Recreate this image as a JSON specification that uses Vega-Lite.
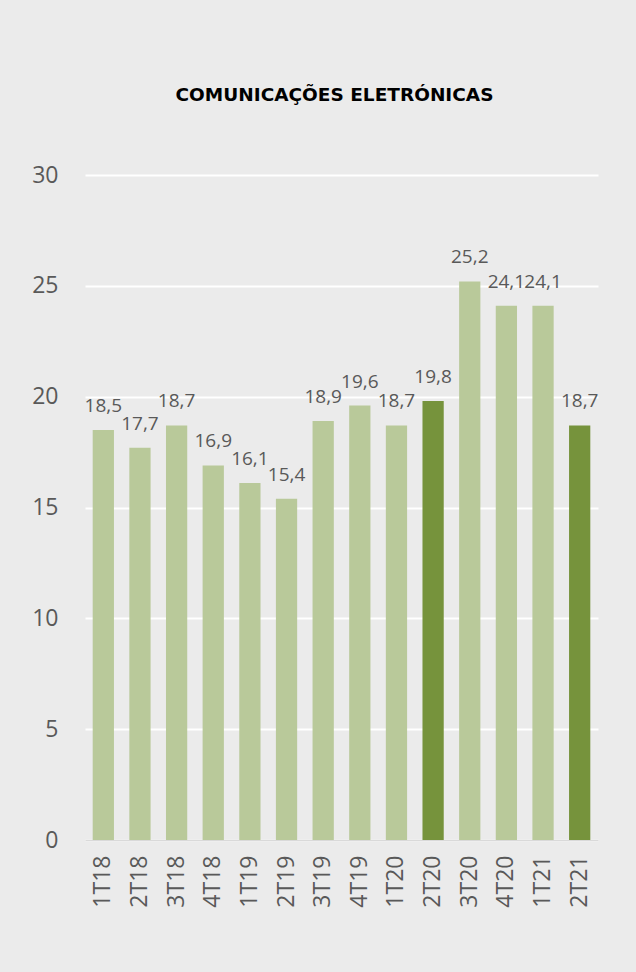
{
  "$schema": "https://vega.github.io/schema/vega-lite/v6.json",
  "width": 513,
  "height": 665,
  "autosize": {"type": "none"},
  "padding": {"left": 85, "top": 175, "right": 38, "bottom": 132},
  "background": "#ebebeb",
  "title": {
    "text": "COMUNICAÇÕES ELETRÓNICAS",
    "font": "DejaVu Sans",
    "fontSize": 18.5,
    "fontWeight": "bold",
    "color": "#000000",
    "anchor": "middle",
    "offset": 60,
    "dx": -7
  },
  "data": {
    "values": [
      {"trimestre": "1T18", "valor": 18.5, "tipo": "normal"},
      {"trimestre": "2T18", "valor": 17.7, "tipo": "normal"},
      {"trimestre": "3T18", "valor": 18.7, "tipo": "normal"},
      {"trimestre": "4T18", "valor": 16.9, "tipo": "normal"},
      {"trimestre": "1T19", "valor": 16.1, "tipo": "normal"},
      {"trimestre": "2T19", "valor": 15.4, "tipo": "normal"},
      {"trimestre": "3T19", "valor": 18.9, "tipo": "normal"},
      {"trimestre": "4T19", "valor": 19.6, "tipo": "normal"},
      {"trimestre": "1T20", "valor": 18.7, "tipo": "normal"},
      {"trimestre": "2T20", "valor": 19.8, "tipo": "destaque"},
      {"trimestre": "3T20", "valor": 25.2, "tipo": "normal"},
      {"trimestre": "4T20", "valor": 24.1, "tipo": "normal"},
      {"trimestre": "1T21", "valor": 24.1, "tipo": "normal"},
      {"trimestre": "2T21", "valor": 18.7, "tipo": "destaque"}
    ]
  },
  "encoding": {
    "x": {
      "field": "trimestre",
      "type": "ordinal",
      "sort": null,
      "scale": {"paddingInner": 0.42, "paddingOuter": 0.21},
      "axis": {
        "title": null,
        "labelAngle": 270,
        "labelAlign": "right",
        "labelBaseline": "middle",
        "labelFont": "Open Sans",
        "labelFontSize": 23,
        "labelColor": "#595959",
        "labelPadding": 15,
        "ticks": false,
        "domainColor": "#d9d9d9",
        "domainWidth": 1.5
      }
    },
    "y": {
      "field": "valor",
      "type": "quantitative",
      "scale": {"domain": [0, 30]},
      "axis": {
        "title": null,
        "values": [0, 5, 10, 15, 20, 25, 30],
        "labelFont": "Open Sans",
        "labelFontSize": 23,
        "labelColor": "#595959",
        "labelPadding": 27,
        "ticks": false,
        "domain": false,
        "gridColor": "#ffffff",
        "gridWidth": 2
      }
    }
  },
  "layer": [
    {
      "mark": {"type": "bar"},
      "encoding": {
        "color": {
          "field": "tipo",
          "type": "nominal",
          "scale": {"domain": ["normal", "destaque"], "range": ["#b9c99a", "#76933c"]},
          "legend": null
        }
      }
    },
    {
      "mark": {"type": "text", "baseline": "alphabetic", "dy": -18, "font": "Open Sans", "fontSize": 19, "color": "#595959"},
      "encoding": {
        "text": {"field": "valor", "type": "quantitative", "format": ".1f"}
      }
    }
  ],
  "config": {
    "view": {"stroke": null},
    "axisX": {"grid": false},
    "locale": {
      "number": {"decimal": ",", "thousands": ".", "grouping": [3], "currency": ["", " €"]}
    }
  }
}
